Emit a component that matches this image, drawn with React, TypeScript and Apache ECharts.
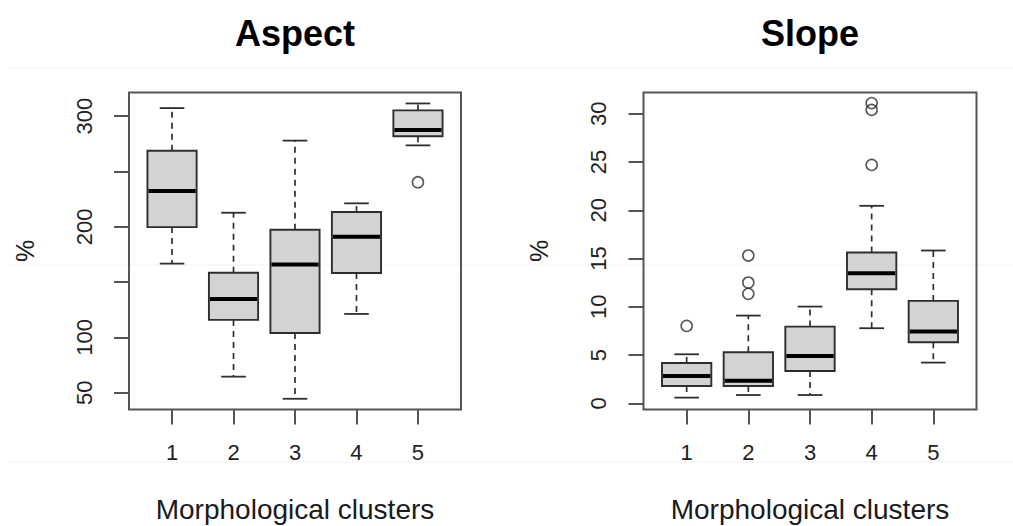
import React, { useEffect, useRef } from 'react';
import * as echarts from 'echarts';

// ---- data ----
const clusters = [1, 2, 3, 4, 5];
const clusterLabels = ['1', '2', '3', '4', '5'];

// Aspect (%) : lower whisker, Q1, median, Q3, upper whisker
const aspectMin = [166.7, 64.5, 44.5, 121.2, 273.6];
const aspectQ1 = [199.7, 115.8, 104.0, 158.2, 281.8];
const aspectMedian = [232.4, 134.8, 165.8, 190.9, 287.5];
const aspectQ3 = [268.8, 158.5, 197.3, 213.3, 305.2];
const aspectMax = [307.3, 212.7, 277.9, 221.2, 311.5];
const aspectOutlierCluster = [5];
const aspectOutlierValue = [240.3];

// Slope (%)
const slopeMin = [0.59, 0.86, 0.86, 7.78, 4.22];
const slopeQ1 = [1.8, 1.8, 3.35, 11.82, 6.33];
const slopeMedian = [2.83, 2.35, 4.91, 13.48, 7.43];
const slopeQ3 = [4.18, 5.29, 7.95, 15.62, 10.61];
const slopeMax = [5.08, 9.09, 10.02, 20.46, 15.83];
const slopeOutlierCluster = [1, 2, 2, 2, 4, 4, 4];
const slopeOutlierValue = [8.02, 11.34, 12.51, 15.31, 24.7, 30.4, 31.1];

const aspectTickValues = [50, 100, 150, 200, 250, 300];
const aspectLabelValues = [50, 100, 200, 300];
const slopeTickValues = [0, 5, 10, 15, 20, 25, 30];
const slopeLabelValues = [0, 5, 10, 15, 20, 25, 30];

const titles = ['Aspect', 'Slope'];
const xTitle = 'Morphological clusters';
const yTitle = '%';

// axis extents (R style 4% padding)
const xRange = [0.3, 5.7];
const aspectRange = [34.8, 321.4];
const slopeRange = [-0.64, 32.2];

const FONT = '"Liberation Sans", Arial, Helvetica, sans-serif';
const STROKE = '#2e2e2e';
const FRAME = '#555555';

const renderBox = (params: any, api: any) => {
  const x = api.value(0);
  const lo = api.coord([x, api.value(1)]);
  const q1 = api.coord([x, api.value(2)]);
  const md = api.coord([x, api.value(3)]);
  const q3 = api.coord([x, api.value(4)]);
  const hi = api.coord([x, api.value(5)]);
  const cx = lo[0];
  const halfBox = api.size([0.4, 0])[0];
  const halfCap = api.size([0.2, 0])[0];
  const dash = { stroke: STROKE, lineWidth: 1.7, lineDash: [6, 5] };
  const solid = { stroke: STROKE, lineWidth: 1.8 };
  return {
    type: 'group',
    children: [
      { type: 'line', shape: { x1: cx, y1: q3[1], x2: cx, y2: hi[1] }, style: dash },
      { type: 'line', shape: { x1: cx, y1: q1[1], x2: cx, y2: lo[1] }, style: dash },
      { type: 'line', shape: { x1: cx - halfCap, y1: hi[1], x2: cx + halfCap, y2: hi[1] }, style: solid },
      { type: 'line', shape: { x1: cx - halfCap, y1: lo[1], x2: cx + halfCap, y2: lo[1] }, style: solid },
      {
        type: 'rect',
        shape: { x: cx - halfBox, y: q3[1], width: halfBox * 2, height: q1[1] - q3[1] },
        style: { fill: '#d3d3d3', stroke: STROKE, lineWidth: 1.9 },
      },
      {
        type: 'line',
        shape: { x1: cx - halfBox + 1, y1: md[1], x2: cx + halfBox - 1, y2: md[1] },
        style: { stroke: '#000000', lineWidth: 4 },
      },
    ],
  };
};

function boxData(mn: number[], q1: number[], md: number[], q3: number[], mx: number[]) {
  return clusters.map((c, i) => [c, mn[i], q1[i], md[i], q3[i], mx[i]]);
}

function makeXAxis(gridIndex: number) {
  return {
    gridIndex,
    type: 'value',
    min: xRange[0],
    max: xRange[1],
    axisLine: { show: false, onZero: false },
    splitLine: { show: false },
    axisTick: { show: true, customValues: clusters, length: 15, lineStyle: { color: FRAME, width: 2 } },
    axisLabel: {
      customValues: clusters,
      formatter: (v: number) => clusterLabels[clusters.indexOf(Math.round(v))] ?? '',
      margin: 32,
      fontSize: 22,
      color: '#222',
      fontFamily: FONT,
    },
    name: xTitle,
    nameLocation: 'middle',
    nameGap: 86,
    nameTextStyle: { fontSize: 28, color: '#1a1a1a', fontFamily: FONT },
  };
}

function makeYAxis(gridIndex: number, range: number[], ticks: number[], labels: number[]) {
  return {
    gridIndex,
    type: 'value',
    min: range[0],
    max: range[1],
    axisLine: { show: false, onZero: false },
    splitLine: { show: false },
    axisTick: { show: true, customValues: ticks, length: 15, lineStyle: { color: FRAME, width: 2 } },
    axisLabel: {
      customValues: labels,
      rotate: 90,
      margin: 34,
      fontSize: 22,
      color: '#222',
      fontFamily: FONT,
    },
    name: yTitle,
    nameLocation: 'middle',
    nameRotate: 90,
    nameGap: 92,
    nameTextStyle: { fontSize: 25, color: '#1a1a1a', fontFamily: FONT },
  };
}

const outlierStyle = {
  color: 'rgba(0,0,0,0)',
  borderColor: STROKE,
  borderWidth: 1.6,
};

export default function App() {
  const ref = useRef<HTMLDivElement>(null);
  useEffect(() => {
    if (!ref.current) return;
    const chart = echarts.init(ref.current, undefined, { renderer: 'svg' });
    const gridBase = {
      show: true,
      borderColor: FRAME,
      borderWidth: 2,
      backgroundColor: 'transparent',
      containLabel: false,
      outerBoundsMode: 'none',
    };
    chart.setOption({
      animation: false,
      backgroundColor: '#ffffff',
      grid: [
        { ...gridBase, left: 129, top: 92.5, width: 332, height: 317 },
        { ...gridBase, left: 643.5, top: 92.5, width: 333, height: 317 },
      ],
      xAxis: [makeXAxis(0), makeXAxis(1)],
      yAxis: [
        makeYAxis(0, aspectRange, aspectTickValues, aspectLabelValues),
        makeYAxis(1, slopeRange, slopeTickValues, slopeLabelValues),
      ],
      graphic: [
        { type: 'line', z: -10, shape: { x1: 8, y1: 68, x2: 1013, y2: 68 }, style: { stroke: '#f1f1f1', lineWidth: 1 } },
        { type: 'line', z: -10, shape: { x1: 8, y1: 265, x2: 1013, y2: 265 }, style: { stroke: '#f3f3f3', lineWidth: 1 } },
        { type: 'line', z: -10, shape: { x1: 8, y1: 462, x2: 1013, y2: 462 }, style: { stroke: '#f1f1f1', lineWidth: 1 } },
        {
          type: 'text', x: 295, y: 33,
          style: { text: titles[0], textAlign: 'center', textVerticalAlign: 'middle', fontSize: 36, fontWeight: 'bold', fontFamily: FONT, fill: '#000' },
        },
        {
          type: 'text', x: 810, y: 33,
          style: { text: titles[1], textAlign: 'center', textVerticalAlign: 'middle', fontSize: 36, fontWeight: 'bold', fontFamily: FONT, fill: '#000' },
        },
      ],
      series: [
        {
          type: 'custom',
          xAxisIndex: 0,
          yAxisIndex: 0,
          renderItem: renderBox,
          encode: { x: 0, y: [1, 2, 3, 4, 5] },
          data: boxData(aspectMin, aspectQ1, aspectMedian, aspectQ3, aspectMax),
        },
        {
          type: 'scatter',
          xAxisIndex: 0,
          yAxisIndex: 0,
          symbol: 'circle',
          symbolSize: 11,
          itemStyle: outlierStyle,
          data: aspectOutlierCluster.map((c, i) => [c, aspectOutlierValue[i]]),
        },
        {
          type: 'custom',
          xAxisIndex: 1,
          yAxisIndex: 1,
          renderItem: renderBox,
          encode: { x: 0, y: [1, 2, 3, 4, 5] },
          data: boxData(slopeMin, slopeQ1, slopeMedian, slopeQ3, slopeMax),
        },
        {
          type: 'scatter',
          xAxisIndex: 1,
          yAxisIndex: 1,
          symbol: 'circle',
          symbolSize: 11,
          itemStyle: outlierStyle,
          data: slopeOutlierCluster.map((c, i) => [c, slopeOutlierValue[i]]),
        },
      ],
    });
    return () => chart.dispose();
  }, []);
  return (
    <div
      ref={ref}
      style={{ position: 'fixed', left: 0, top: 0, width: 1013, height: 526, background: '#fff' }}
    />
  );
}
